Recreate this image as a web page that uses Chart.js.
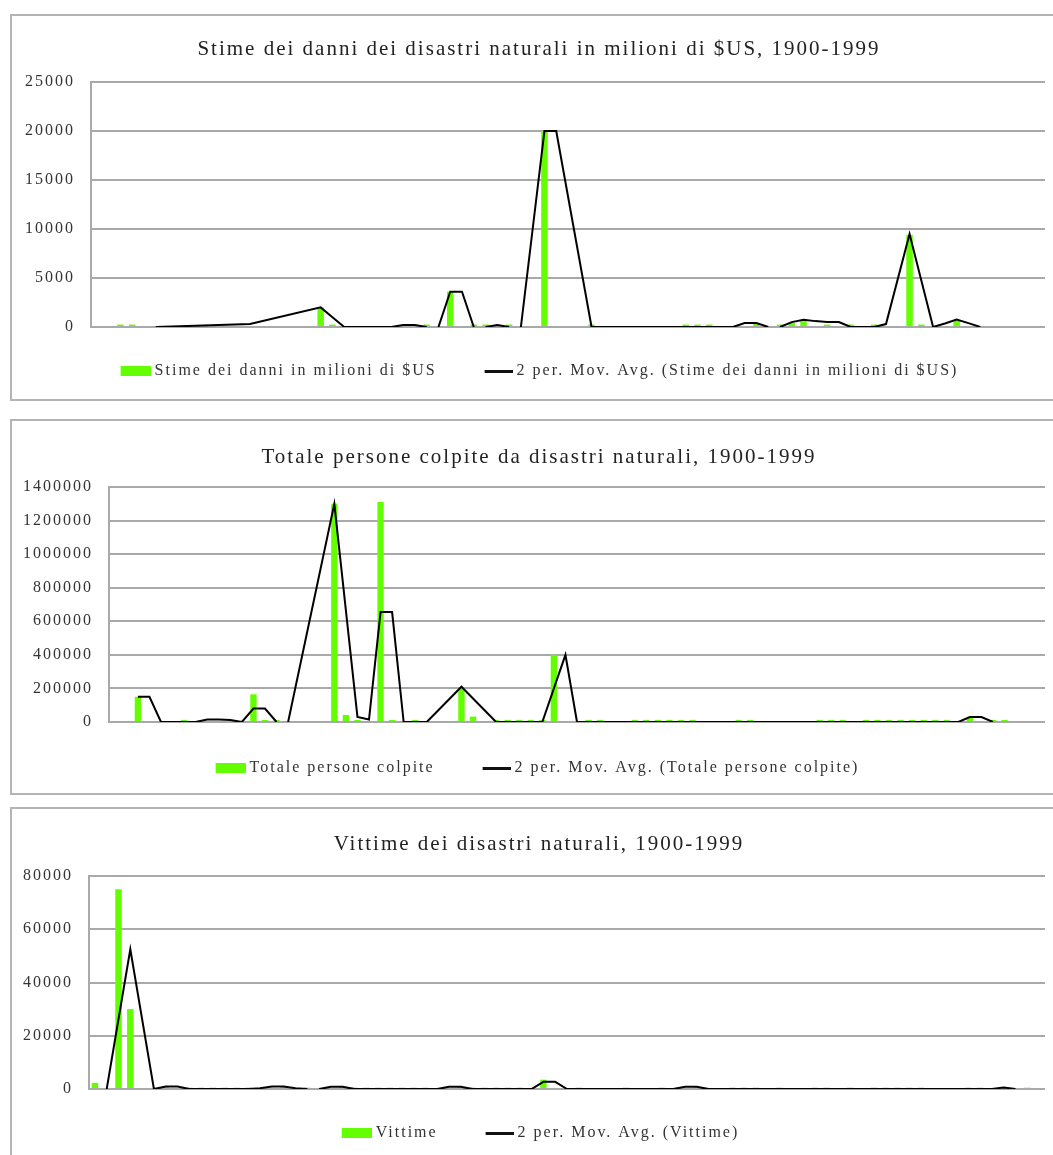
<!DOCTYPE html>
<html>
<head>
<meta charset="utf-8">
<script src="https://cdn.jsdelivr.net/npm/chart.js@4/dist/chart.umd.min.js"></script>
<style>
html,body{margin:0;padding:0;background:#fff;overflow:hidden;width:1053px;height:1155px;}
.panel{position:absolute;left:10px;width:1060px;border:2px solid #b4b4b4;background:#fff;}
.panel canvas{display:block;}
</style>
</head>
<body>
<div class="panel" style="top:14px;height:383px"><canvas id="c1" width="1060" height="383"></canvas></div>
<div class="panel" style="top:419px;height:372px"><canvas id="c2" width="1060" height="372"></canvas></div>
<div class="panel" style="top:807px;height:360px"><canvas id="c3" width="1060" height="360"></canvas></div>
<script>
// ---------- DATA ----------
const categories = ["1","2","3","4","5","6","7","8","9","10","11","12","13","14","15","16","17","18","19","20",
"21","22","23","24","25","26","27","28","29","30","31","32","33","34","35","36","37","38","39","40",
"41","42","43","44","45","46","47","48","49","50","51","52","53","54","55","56","57","58","59","60",
"61","62","63","64","65","66","67","68","69","70","71","72","73","74","75","76","77","78","79","80","81"];

const damageTitle = "Stime dei danni dei disastri naturali in milioni di $US, 1900-1999";
const damageLabel = "Stime dei danni in milioni di $US";
const damageAvgLabel = "2 per. Mov. Avg. (Stime dei danni in milioni di $US)";
const damageTicks = [0, 5000, 10000, 15000, 20000, 25000];
const damageValues = [
 null,null,250,250,null,null,null,null,null,null,
 null,null,null,null,null,null,null,null,null,2000,
 250,null,null,null,null,null,null,null,250,null,
 3600,null,250,250,null,250,null,null,20000,null,
 null,null,250,null,null,null,null,null,null,null,
 250,250,250,null,null,null,350,null,250,400,
 600,null,250,null,250,null,250,null,null,9400,
 250,null,null,650,null,null,null,null,null,null,
 null];
const damageAvg = [
 null,null,null,null,null,0,null,null,null,null,
 null,null,null,300,null,null,null,null,null,2000,
 1000,0,null,null,null,0,200,200,0,0,
 3600,3600,0,0,200,0,0,null,20000,20000,
 null,null,0,null,null,null,null,null,null,null,
 null,null,null,null,0,400,400,0,0,500,
 750,600,500,500,0,null,0,300,null,9500,
 null,0,350,750,400,0,null,null,null,null,
 null];

const affectedTitle = "Totale persone colpite da disastri naturali, 1900-1999";
const affectedLabel = "Totale persone colpite";
const affectedAvgLabel = "2 per. Mov. Avg. (Totale persone colpite)";
const affectedTicks = [0, 200000, 400000, 600000, 800000, 1000000, 1200000, 1400000];
const affectedValues = [
 null,null,150000,null,null,null,12000,null,null,null,
 null,null,165000,12000,12000,null,null,null,null,1300000,
 42000,12000,null,1310000,12000,null,12000,null,null,null,
 200000,32000,null,12000,12000,12000,12000,12000,400000,null,
 null,12000,12000,null,null,12000,12000,12000,12000,12000,
 12000,null,null,null,12000,12000,null,null,null,null,
 null,12000,12000,12000,null,12000,12000,12000,12000,12000,
 12000,12000,12000,null,30000,null,12000,12000,null,null,
 null];
const affectedAvg = [
 null,null,150000,150000,0,null,null,0,15000,15000,
 12000,0,80000,80000,0,0,null,null,null,1300000,
 null,30000,15000,655000,655000,0,null,0,null,null,
 210000,null,null,0,null,null,null,0,null,400000,
 0,null,null,null,null,null,null,null,null,null,
 null,null,null,null,null,null,null,null,null,null,
 null,null,null,null,null,null,null,null,null,null,
 null,null,null,0,30000,30000,0,null,null,null,
 null];

const victimsTitle = "Vittime dei disastri naturali, 1900-1999";
const victimsLabel = "Vittime";
const victimsAvgLabel = "2 per. Mov. Avg. (Vittime)";
const victimsTicks = [0, 20000, 40000, 60000, 80000];
const victimsValues = [
 2300,null,75000,30000,null,null,900,null,500,500,
 500,500,500,500,null,500,1000,null,500,null,
 null,800,500,500,500,500,500,500,500,null,
 null,800,500,500,500,500,500,null,3500,null,
 null,500,null,null,null,500,null,null,500,null,
 null,800,null,null,500,500,500,null,500,null,
 null,500,500,null,500,null,500,500,500,500,
 500,null,null,null,500,500,null,500,null,500,
 null];
const victimsAvg = [
 null,0,null,52500,null,0,900,900,0,null,
 null,null,null,0,300,900,900,300,0,0,
 800,800,0,null,null,null,null,null,null,0,
 800,800,0,null,null,null,null,0,2700,2700,
 0,null,null,null,null,null,null,null,null,0,
 800,800,0,null,null,null,null,null,null,null,
 null,null,null,null,null,null,null,null,null,null,
 null,null,null,null,null,null,0,600,0,null,
 null];

// ---------- STYLE ----------
const GREEN = '#63ff00';
const FONT = "'Liberation Serif', 'Times New Roman', serif";

function swatch(kind) {
  const c = document.createElement('canvas');
  c.width = 70;
  c.height = kind === 'bar' ? 10 : 3;
  const g = c.getContext('2d');
  if (kind === 'bar') { g.fillStyle = GREEN; g.fillRect(40, 0, 30, 10); }
  else { g.fillStyle = '#111'; g.fillRect(42, 0, 28, 3); }
  return c;
}

function makeChart(id, o) {
  const ticks = o.ticks;
  const spacing = {
    id: 'spacing',
    beforeUpdate(c) { c.ctx.letterSpacing = '2px'; },
    beforeLayout(c) { c.ctx.letterSpacing = '2px'; },
    afterLayout(c) {
      if (c.titleBlock) { c.titleBlock.left += 21; }
      if (c.legend) { c.legend.left += o.legendShift; c.legend.right += o.legendShift; }
    },
    beforeDraw(c) { c.ctx.letterSpacing = '2px'; }
  };
  return new Chart(document.getElementById(id), {
    type: 'bar',
    data: {
      labels: categories,
      datasets: [
        { type: 'bar', label: o.barLabel, data: o.values, backgroundColor: GREEN,
          barPercentage: 0.55, categoryPercentage: 1, order: 2 },
        { type: 'line', label: o.avgLabel, data: o.avg, borderColor: '#000', borderWidth: 2,
          pointRadius: 0, tension: 0, spanGaps: true, fill: false, order: 1,
          segment: { borderColor: s => (o.avg[s.p0DataIndex] === 0 && o.avg[s.p1DataIndex] === 0) ? 'rgba(0,0,0,0)' : '#000' } }
      ]
    },
    options: {
      responsive: false,
      animation: false,
      events: [],
      devicePixelRatio: 1,
      layout: { padding: { left: 0, right: 27, top: 0, bottom: o.padBottom } },
      plugins: {
        title: { display: true, text: o.title, color: '#222',
          font: { family: FONT, size: 21, weight: 'normal', lineHeight: 1.2 },
          padding: { top: o.titleTop, bottom: o.titleBottom } },
        legend: { display: true, position: 'bottom',
          labels: {
            usePointStyle: true, pointStyleWidth: 62, boxHeight: 16, padding: 10,
            color: '#333', font: { family: FONT, size: 16 },
            generateLabels: () => [
              { text: o.barLabel, pointStyle: swatch('bar'), fillStyle: 'rgba(0,0,0,0)', strokeStyle: 'rgba(0,0,0,0)', lineWidth: 0, hidden: false, datasetIndex: 0, fontColor: '#333' },
              { text: o.avgLabel, pointStyle: swatch('line'), fillStyle: 'rgba(0,0,0,0)', strokeStyle: 'rgba(0,0,0,0)', lineWidth: 0, hidden: false, datasetIndex: 1, fontColor: '#333' }
            ]
          }
        },
        tooltip: { enabled: false }
      },
      scales: {
        x: { type: 'category', offset: true,
          grid: { display: false }, border: { display: false },
          ticks: { display: false },
          afterFit: s => { s.height = o.xHeight; } },
        y: { position: 'left', min: ticks[0], max: ticks[ticks.length - 1],
          ticks: { stepSize: ticks[1] - ticks[0], color: '#333', padding: 16,
            font: { family: FONT, size: 16 }, callback: v => String(v) },
          grid: { color: '#a9a9a9', lineWidth: 2, drawTicks: false },
          border: { display: true, color: '#a9a9a9', width: 2 },
          afterFit: s => { s.width = o.yWidth; } }
      }
    },
    plugins: [spacing]
  });
}

makeChart('c1', { title: damageTitle, barLabel: damageLabel, avgLabel: damageAvgLabel,
  values: damageValues, avg: damageAvg, ticks: damageTicks,
  titleTop: 20.4, titleBottom: 20.4, xHeight: 26, padBottom: 10, yWidth: 79, legendShift: -7 });
makeChart('c2', { title: affectedTitle, barLabel: affectedLabel, avgLabel: affectedAvgLabel,
  values: affectedValues, avg: affectedAvg, ticks: affectedTicks,
  titleTop: 23.4, titleBottom: 17.4, xHeight: 28, padBottom: 7, yWidth: 97, legendShift: -9 });
makeChart('c3', { title: victimsTitle, barLabel: victimsLabel, avgLabel: victimsAvgLabel,
  values: victimsValues, avg: victimsAvg, ticks: victimsTicks,
  titleTop: 22.4, titleBottom: 19.4, xHeight: 26, padBottom: 18, yWidth: 77, legendShift: -6 });
</script>
</body>
</html>
